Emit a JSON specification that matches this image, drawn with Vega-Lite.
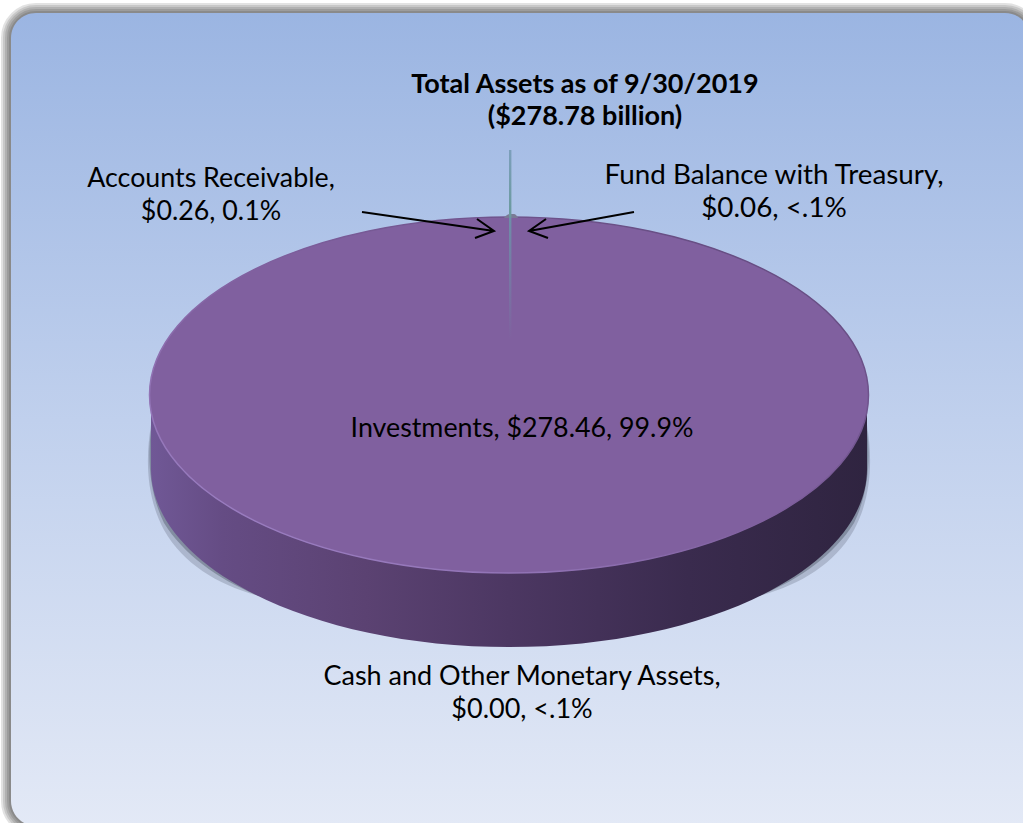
{
"$schema":"https://vega.github.io/schema/vega-lite/v6.json",
"width":1023,"height":823,"padding":0,
"autosize":{"type":"none"},
"background":"#ffffff",
"config":{"view":{"stroke":null}},
"datasets":{
"assets":[
{"asset":"Investments","billions":278.46,"share":"99.9%","label":"Investments, $278.46, 99.9%"},
{"asset":"Accounts Receivable","billions":0.26,"share":"0.1%","label":"Accounts Receivable,\n$0.26, 0.1%"},
{"asset":"Fund Balance with Treasury","billions":0.06,"share":"<.1%","label":"Fund Balance with Treasury,\n$0.06, <.1%"},
{"asset":"Cash and Other Monetary Assets","billions":0.00,"share":"<.1%","label":"Cash and Other Monetary Assets,\n$0.00, <.1%"}
],
"frame":[{"part":"panel"}]
},
"encoding":{"x":{"value":509},"y":{"value":395}},
"layer":[
{"data":{"name":"frame"},"mark":{"type":"point","size":4,"opacity":0.11,"filled":false,"stroke":"#000000","strokeWidth":20,"shape":"M-498,-357 A25,25 0 0 1 -473,-382 L496,-382 A25,25 0 0 1 521,-357 L521,431 L-473,431 A25,25 0 0 1 -498,406 Z"}},
{"data":{"name":"frame"},"mark":{"type":"point","size":4,"opacity":0.11,"filled":false,"stroke":"#000000","strokeWidth":16,"shape":"M-498,-357 A25,25 0 0 1 -473,-382 L496,-382 A25,25 0 0 1 521,-357 L521,431 L-473,431 A25,25 0 0 1 -498,406 Z"}},
{"data":{"name":"frame"},"mark":{"type":"point","size":4,"opacity":0.11,"filled":false,"stroke":"#000000","strokeWidth":12,"shape":"M-498,-357 A25,25 0 0 1 -473,-382 L496,-382 A25,25 0 0 1 521,-357 L521,431 L-473,431 A25,25 0 0 1 -498,406 Z"}},
{"data":{"name":"frame"},"mark":{"type":"point","size":4,"opacity":0.11,"filled":false,"stroke":"#000000","strokeWidth":8,"shape":"M-498,-357 A25,25 0 0 1 -473,-382 L496,-382 A25,25 0 0 1 521,-357 L521,431 L-473,431 A25,25 0 0 1 -498,406 Z"}},
{"data":{"name":"frame"},"mark":{"type":"point","size":4,"opacity":0.11,"filled":false,"stroke":"#000000","strokeWidth":4,"shape":"M-498,-357 A25,25 0 0 1 -473,-382 L496,-382 A25,25 0 0 1 521,-357 L521,431 L-473,431 A25,25 0 0 1 -498,406 Z"}},
{"data":{"name":"frame"},"mark":{"type":"point","size":4,"opacity":1,"filled":true,"strokeWidth":0,"fill":{"gradient":"linear","x1":0,"y1":0,"x2":0,"y2":1,"stops":[{"offset":0,"color":"#9bb5e2"},{"offset":0.5,"color":"#c0d0ed"},{"offset":1,"color":"#e3e9f6"}]},"shape":"M-498,-357 A25,25 0 0 1 -473,-382 L496,-382 A25,25 0 0 1 521,-357 L521,431 L-473,431 A25,25 0 0 1 -498,406 Z"}},
{"data":{"name":"assets"},"transform":[{"filter":"datum.asset==='Investments'"}],"mark":{"type":"point","size":4,"opacity":0.22,"filled":true,"strokeWidth":0,"fill":"#3a4250","shape":"M-358,30 C-363,60 -364,100 -345,135 C-325,170 -290,190 -250,201 Z M358,30 C363,60 364,100 345,135 C325,170 290,190 250,201 Z"}},
{"data":{"name":"assets"},"transform":[{"filter":"datum.asset==='Investments'"}],"mark":{"type":"point","size":4,"opacity":0.35,"filled":true,"strokeWidth":0,"fill":"#3a4250","shape":"M-358,35 C-361,60 -361,95 -345,128 C-325,160 -290,185 -250,201 Z M358,35 C361,60 361,95 345,128 C325,160 290,185 250,201 Z"}},
{"data":{"name":"assets"},"transform":[{"filter":"datum.asset==='Investments'"}],"mark":{"type":"point","size":4,"opacity":1,"filled":true,"strokeWidth":0,"fill":{"gradient":"linear","x1":0,"y1":0,"x2":1,"y2":0,"stops":[{"offset":0,"color":"#705896"},{"offset":0.1,"color":"#654c84"},{"offset":0.3,"color":"#5b4272"},{"offset":0.5,"color":"#4c3762"},{"offset":0.75,"color":"#3a2b4e"},{"offset":1,"color":"#2f2440"}]},"shape":"M-358,0 L-358,74 A358,178 0 0 0 358,74 L358,0 Z"}},
{"data":{"name":"assets"},"transform":[{"filter":"datum.asset==='Investments'"}],"mark":{"type":"point","size":4,"opacity":1,"filled":true,"fill":"#80609f","strokeWidth":1.5,"stroke":{"gradient":"linear","x1":0,"y1":1,"x2":1,"y2":0,"stops":[{"offset":0,"color":"#a387cc"},{"offset":0.5,"color":"#80609f"},{"offset":1,"color":"#5d4678"}]},"shape":"M-359.5,0 A359.5,178 0 1 1 359.5,0 A359.5,178 0 1 1 -359.5,0 Z"}},
{"data":{"name":"assets"},"transform":[{"filter":"datum.asset==='Fund Balance with Treasury'"}],"mark":{"type":"point","size":4,"opacity":1,"filled":true,"strokeWidth":0,"fill":"#7a7a96","shape":"M-5,-177 Q-2,-181 1,-181 L5,-181 Q7,-181 9,-177 Z"}},
{"data":{"name":"assets"},"transform":[{"filter":"datum.asset==='Accounts Receivable'"}],"mark":{"type":"point","size":4,"opacity":1,"filled":true,"strokeWidth":0,"fill":{"gradient":"linear","x1":0,"y1":0,"x2":0,"y2":1,"stops":[{"offset":0,"color":"#6e8fa8"},{"offset":1,"color":"#80609f"}]},"shape":"M0,-178 L2.4,-178 L2.4,-55 L0,-55 Z"}},
{"data":{"name":"assets"},"transform":[{"filter":"datum.asset==='Accounts Receivable'"}],"mark":{"type":"point","size":4,"opacity":1,"filled":true,"strokeWidth":0,"fill":{"gradient":"linear","x1":0,"y1":0,"x2":0,"y2":1,"stops":[{"offset":0,"color":"#7c9fbb"},{"offset":1,"color":"#6a9a9c"}]},"shape":"M0,-245 L2.4,-245 L2.4,-178 L0,-178 Z"}},
{"data":{"name":"assets"},"transform":[{"filter":"datum.asset==='Accounts Receivable'"}],"mark":{"type":"point","size":4,"opacity":1,"filled":false,"stroke":"#000000","strokeWidth":2,"shape":"M-147,-183 L-15,-164 M-32,-176 L-15,-164 L-34,-157"}},
{"data":{"name":"assets"},"transform":[{"filter":"datum.asset==='Fund Balance with Treasury'"}],"mark":{"type":"point","size":4,"opacity":1,"filled":false,"stroke":"#000000","strokeWidth":2,"shape":"M125,-183 L20,-164 M37,-176 L20,-164 L39,-157"}},
{"data":{"name":"assets"},"transform":[{"filter":"datum.asset==='Investments'"}],"mark":{"type":"text","font":"Lato","fontSize":26.8,"color":"#000000","align":"center","baseline":"middle","lineBreak":"\n","lineHeight":32.5},"encoding":{"text":{"field":"label"},"x":{"value":522},"y":{"value":429}}},
{"data":{"name":"assets"},"transform":[{"filter":"datum.asset==='Accounts Receivable'"}],"mark":{"type":"text","font":"Lato","fontSize":26.8,"color":"#000000","align":"center","baseline":"middle","lineBreak":"\n","lineHeight":32.5},"encoding":{"text":{"field":"label"},"x":{"value":211},"y":{"value":179}}},
{"data":{"name":"assets"},"transform":[{"filter":"datum.asset==='Fund Balance with Treasury'"}],"mark":{"type":"text","font":"Lato","fontSize":27.8,"color":"#000000","align":"center","baseline":"middle","lineBreak":"\n","lineHeight":32.5},"encoding":{"text":{"field":"label"},"x":{"value":774},"y":{"value":176}}},
{"data":{"name":"assets"},"transform":[{"filter":"datum.asset==='Cash and Other Monetary Assets'"}],"mark":{"type":"text","font":"Lato","fontSize":27,"color":"#000000","align":"center","baseline":"middle","lineBreak":"\n","lineHeight":32.5},"encoding":{"text":{"field":"label"},"x":{"value":522},"y":{"value":677}}},
{"data":{"values":[{"heading":"Total Assets as of 9/30/2019\n($278.78 billion)"}]},"mark":{"type":"text","font":"Lato","fontSize":27,"fontWeight":"bold","color":"#000000","align":"center","baseline":"middle","lineBreak":"\n","lineHeight":32},"encoding":{"text":{"field":"heading"},"x":{"value":585},"y":{"value":85}}}
]
}
